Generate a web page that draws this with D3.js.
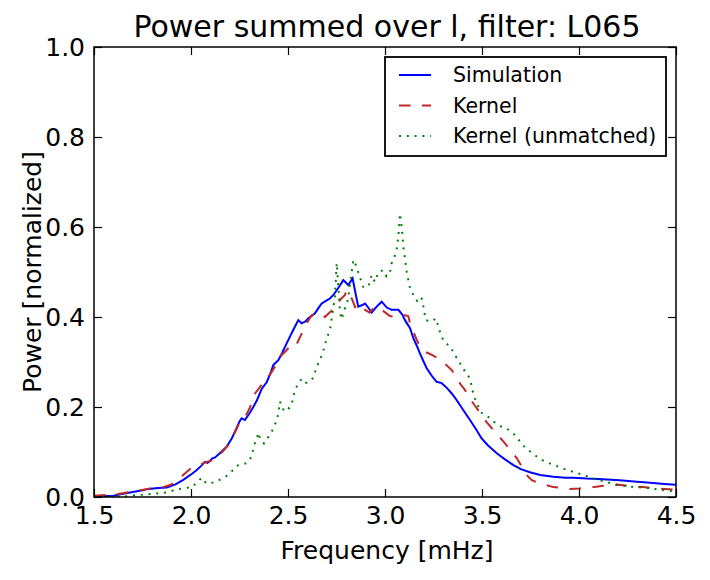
<!DOCTYPE html>
<html>
<head>
<meta charset="utf-8">
<script src="https://cdn.jsdelivr.net/npm/d3@7"></script>
<style>
  body { margin: 0; background: #fff; }
  svg text { font-family: "DejaVu Sans", sans-serif; fill: #000; }
</style>
</head>
<body>
<svg id="chart" width="710" height="580"></svg>
<script>
// frequency [mHz] / normalized power
var simFreq = [1.50, 1.55, 1.60, 1.65, 1.70, 1.75, 1.78, 1.83, 1.875, 1.92, 1.96, 2.00, 2.03, 2.05, 2.072, 2.085, 2.098, 2.11, 2.124, 2.15, 2.184, 2.21, 2.235, 2.25, 2.261, 2.278, 2.30, 2.321, 2.34, 2.364, 2.39, 2.41, 2.424, 2.45, 2.47, 2.485, 2.505, 2.527, 2.553, 2.57, 2.59, 2.605, 2.639, 2.66, 2.674, 2.70, 2.716, 2.734, 2.76, 2.785, 2.811, 2.833, 2.847, 2.862, 2.88, 2.897, 2.915, 2.931, 2.957, 2.983, 3.009, 3.034, 3.069, 3.09, 3.103, 3.129, 3.146, 3.165, 3.18, 3.20, 3.215, 3.24, 3.266, 3.292, 3.32, 3.344, 3.365, 3.387, 3.41, 3.438, 3.47, 3.498, 3.53, 3.576, 3.62, 3.662, 3.70, 3.747, 3.80, 3.868, 3.93, 3.97, 4.04, 4.10, 4.21, 4.30, 4.383, 4.44, 4.50];
var simPower = [0.002, 0.002, 0.003, 0.007, 0.011, 0.015, 0.018, 0.020, 0.021, 0.028, 0.038, 0.050, 0.060, 0.068, 0.078, 0.076, 0.080, 0.086, 0.088, 0.098, 0.112, 0.130, 0.153, 0.168, 0.175, 0.171, 0.185, 0.200, 0.215, 0.240, 0.255, 0.275, 0.293, 0.304, 0.320, 0.334, 0.352, 0.371, 0.393, 0.386, 0.390, 0.397, 0.408, 0.422, 0.430, 0.437, 0.441, 0.449, 0.465, 0.482, 0.471, 0.486, 0.455, 0.423, 0.426, 0.430, 0.420, 0.410, 0.423, 0.434, 0.421, 0.416, 0.416, 0.405, 0.393, 0.375, 0.353, 0.335, 0.319, 0.300, 0.286, 0.270, 0.256, 0.253, 0.242, 0.230, 0.218, 0.204, 0.189, 0.171, 0.150, 0.130, 0.115, 0.097, 0.083, 0.071, 0.062, 0.055, 0.049, 0.045, 0.043, 0.043, 0.041, 0.040, 0.037, 0.034, 0.031, 0.029, 0.027];

var kerFreq = [1.50, 1.60, 1.70, 1.79, 1.85, 1.90, 1.95, 1.995, 2.04, 2.08, 2.115, 2.15, 2.20, 2.244, 2.27, 2.304, 2.33, 2.364, 2.39, 2.416, 2.44, 2.459, 2.49, 2.527, 2.545, 2.565, 2.588, 2.622, 2.648, 2.67, 2.69, 2.72, 2.751, 2.768, 2.794, 2.80, 2.83, 2.854, 2.875, 2.897, 2.92, 2.94, 2.966, 2.995, 3.026, 3.06, 3.09, 3.12, 3.129, 3.145, 3.163, 3.18, 3.21, 3.249, 3.284, 3.31, 3.344, 3.369, 3.39, 3.412, 3.438, 3.46, 3.48, 3.515, 3.558, 3.601, 3.644, 3.68, 3.73, 3.755, 3.785, 3.816, 3.868, 3.91, 3.954, 4.00, 4.05, 4.09, 4.125, 4.17, 4.21, 4.26, 4.33, 4.383, 4.44, 4.50];
var kerPower = [0.003, 0.005, 0.012, 0.019, 0.021, 0.028, 0.045, 0.062, 0.070, 0.078, 0.082, 0.095, 0.119, 0.160, 0.170, 0.199, 0.230, 0.249, 0.262, 0.278, 0.295, 0.312, 0.325, 0.343, 0.340, 0.358, 0.380, 0.404, 0.408, 0.410, 0.400, 0.412, 0.423, 0.438, 0.449, 0.460, 0.440, 0.412, 0.416, 0.416, 0.410, 0.419, 0.423, 0.412, 0.402, 0.400, 0.405, 0.402, 0.386, 0.368, 0.350, 0.334, 0.322, 0.314, 0.306, 0.296, 0.282, 0.264, 0.250, 0.238, 0.219, 0.205, 0.193, 0.171, 0.149, 0.128, 0.106, 0.086, 0.049, 0.038, 0.032, 0.028, 0.022, 0.020, 0.018, 0.019, 0.021, 0.023, 0.025, 0.026, 0.027, 0.024, 0.022, 0.020, 0.018, 0.016];

var unmFreq = [1.50, 1.60, 1.67, 1.72, 1.806, 1.875, 1.918, 1.96, 2.004, 2.03, 2.055, 2.08, 2.10, 2.124, 2.155, 2.184, 2.218, 2.244, 2.265, 2.287, 2.30, 2.313, 2.321, 2.33, 2.338, 2.347, 2.356, 2.376, 2.39, 2.41, 2.43, 2.445, 2.459, 2.468, 2.49, 2.518, 2.536, 2.555, 2.57, 2.588, 2.613, 2.63, 2.648, 2.665, 2.682, 2.70, 2.716, 2.725, 2.735, 2.742, 2.751, 2.76, 2.768, 2.776, 2.79, 2.81, 2.825, 2.837, 2.85, 2.862, 2.875, 2.888, 2.914, 2.931, 2.948, 2.966, 2.991, 3.008, 3.026, 3.034, 3.05, 3.06, 3.069, 3.077, 3.086, 3.095, 3.103, 3.112, 3.12, 3.129, 3.146, 3.165, 3.18, 3.19, 3.198, 3.21, 3.24, 3.263, 3.275, 3.287, 3.304, 3.338, 3.356, 3.381, 3.40, 3.426, 3.441, 3.45, 3.46, 3.478, 3.498, 3.532, 3.562, 3.601, 3.639, 3.672, 3.696, 3.727, 3.76, 3.794, 3.833, 3.872, 3.912, 3.954, 3.993, 4.034, 4.074, 4.117, 4.16, 4.203, 4.245, 4.289, 4.33, 4.375, 4.418, 4.46, 4.50];
var unmPower = [0.000, 0.001, 0.002, 0.004, 0.007, 0.010, 0.016, 0.019, 0.022, 0.032, 0.043, 0.030, 0.031, 0.033, 0.040, 0.047, 0.060, 0.071, 0.073, 0.075, 0.082, 0.090, 0.108, 0.120, 0.127, 0.143, 0.130, 0.119, 0.128, 0.140, 0.158, 0.175, 0.212, 0.197, 0.190, 0.204, 0.238, 0.253, 0.262, 0.253, 0.256, 0.265, 0.289, 0.305, 0.325, 0.353, 0.371, 0.395, 0.425, 0.445, 0.520, 0.465, 0.410, 0.395, 0.415, 0.440, 0.490, 0.527, 0.515, 0.500, 0.483, 0.467, 0.467, 0.493, 0.478, 0.500, 0.504, 0.490, 0.500, 0.519, 0.535, 0.550, 0.580, 0.630, 0.600, 0.556, 0.530, 0.500, 0.482, 0.464, 0.449, 0.436, 0.445, 0.440, 0.423, 0.393, 0.390, 0.397, 0.378, 0.362, 0.345, 0.334, 0.318, 0.302, 0.286, 0.273, 0.258, 0.239, 0.222, 0.204, 0.187, 0.178, 0.167, 0.156, 0.149, 0.137, 0.123, 0.108, 0.097, 0.086, 0.077, 0.071, 0.064, 0.058, 0.053, 0.047, 0.041, 0.036, 0.031, 0.027, 0.024, 0.022, 0.021, 0.019, 0.016, 0.014, 0.012];

var xTicks = [1.5, 2.0, 2.5, 3.0, 3.5, 4.0, 4.5];
var yTicks = [0.0, 0.2, 0.4, 0.6, 0.8, 1.0];

var seriesNames = ['Simulation', 'Kernel', 'Kernel (unmatched)'];

var margin = {left: 94, top: 47, right: 34, bottom: 83};
var width = 710 - margin.left - margin.right;
var height = 580 - margin.top - margin.bottom;

var series = [
  {name: seriesNames[0], freq: simFreq, power: simPower, color: '#0000ff', dash: null},
  {name: seriesNames[1], freq: kerFreq, power: kerPower, color: '#c0282a', dash: '11.5,11.5'},
  {name: seriesNames[2], freq: unmFreq, power: unmPower, color: '#008000', dash: '2,5.8'}
];

var svg = d3.select('#chart');
var g = svg.append('g')
  .attr('transform', 'translate(' + margin.left + ',' + margin.top + ')');

var xScale = d3.scaleLinear().domain([1.5, 4.5]).range([0, width]);
var yScale = d3.scaleLinear().domain([0, 1]).range([height, 0]);

g.append('clipPath')
  .attr('id', 'plotClip')
  .append('rect')
  .attr('width', width)
  .attr('height', height);

var line = d3.line()
  .x(function(d) { return xScale(d[0]); })
  .y(function(d) { return yScale(d[1]); });

series.forEach(function(s) {
  var pts = s.freq.map(function(f, i) { return [f, s.power[i]]; });
  g.append('path')
    .datum(pts)
    .attr('clip-path', 'url(#plotClip)')
    .attr('fill', 'none')
    .attr('stroke', s.color)
    .attr('stroke-width', 2)
    .attr('stroke-dasharray', s.dash)
    .attr('d', line);
});

// axes, ticks pointing inward on all four sides
function styleAxis(sel) {
  sel.select('.domain').remove();
  sel.selectAll('.tick line').attr('stroke', '#000').attr('stroke-width', 1.2);
  sel.selectAll('.tick text').attr('font-size', '25px').attr('fill', '#000');
}

g.append('g')
  .attr('transform', 'translate(0,' + height + ')')
  .call(d3.axisBottom(xScale).tickValues(xTicks).tickFormat(d3.format('.1f')).tickSize(-8).tickPadding(9))
  .call(styleAxis);
g.append('g')
  .call(d3.axisTop(xScale).tickValues(xTicks).tickFormat('').tickSize(-8))
  .call(styleAxis);
g.append('g')
  .call(d3.axisLeft(yScale).tickValues(yTicks).tickFormat(d3.format('.1f')).tickSize(-8).tickPadding(9))
  .call(styleAxis);
g.append('g')
  .attr('transform', 'translate(' + width + ',0)')
  .call(d3.axisRight(yScale).tickValues(yTicks).tickFormat('').tickSize(-8))
  .call(styleAxis);

g.append('rect')
  .attr('width', width)
  .attr('height', height)
  .attr('fill', 'none')
  .attr('stroke', '#000')
  .attr('stroke-width', 1.5);

// titles
svg.append('text')
  .attr('x', margin.left + width / 2 + 2)
  .attr('y', 37)
  .attr('text-anchor', 'middle')
  .attr('font-size', '30px')
  .text('Power summed over l, filter: L065');

svg.append('text')
  .attr('x', margin.left + width / 2 + 2)
  .attr('y', 559)
  .attr('text-anchor', 'middle')
  .attr('font-size', '25px')
  .text('Frequency [mHz]');

svg.append('text')
  .attr('transform', 'translate(41,' + (margin.top + height / 2) + ') rotate(-90)')
  .attr('text-anchor', 'middle')
  .attr('font-size', '25px')
  .text('Power [normalized]');

// legend
var legend = g.append('g')
  .attr('transform', 'translate(' + (385 - margin.left) + ',' + (57 - margin.top) + ')');
legend.append('rect')
  .attr('width', 281)
  .attr('height', 99)
  .attr('fill', '#fff')
  .attr('stroke', '#000')
  .attr('stroke-width', 1.8);
var rows = legend.selectAll('g.row')
  .data(series)
  .enter()
  .append('g')
  .attr('class', 'row')
  .attr('transform', function(d, i) { return 'translate(0,' + (18 + i * 30.5) + ')'; });
rows.append('line')
  .attr('x1', 14)
  .attr('x2', 46)
  .attr('stroke', function(d) { return d.color; })
  .attr('stroke-width', 2)
  .attr('stroke-dasharray', function(d) { return d.dash; });
rows.append('text')
  .attr('x', 68)
  .attr('dy', '0.35em')
  .attr('font-size', '20.5px')
  .text(function(d) { return d.name; });
</script>
</body>
</html>
